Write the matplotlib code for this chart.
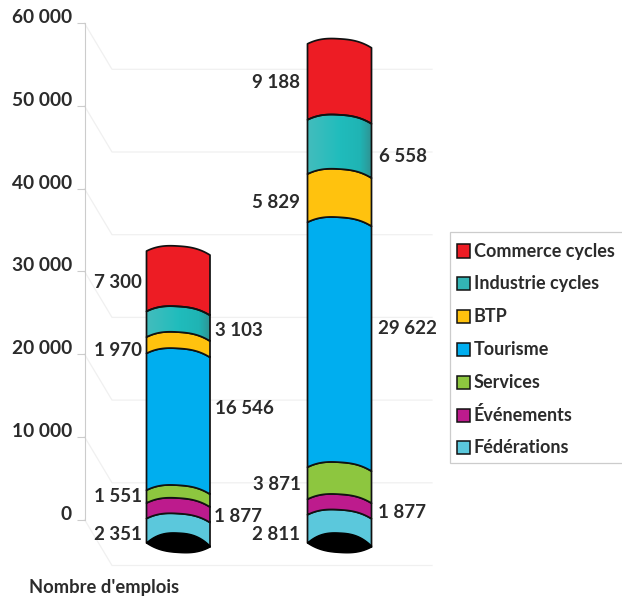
import numpy as np
import matplotlib
matplotlib.use('Agg')
import matplotlib.pyplot as plt
from matplotlib.colors import LinearSegmentedColormap
from matplotlib.patches import Polygon, Rectangle

# bottom to top, same order in both columns
categories = ['Fédérations', 'Événements', 'Services', 'Tourisme', 'BTP', 'Industrie cycles', 'Commerce cycles']
col_left = [2351, 1877, 1551, 16546, 1970, 3103, 7300]
col_right = [2811, 1877, 3871, 29622, 5829, 6558, 9188]
y_ticks = [0, 10000, 20000, 30000, 40000, 50000, 60000]
y_axis_title = "Nombre d'emplois"

colors = ['#5bc8dc', '#bd1b8d', '#8dc63f', '#00aeef', '#ffc20e', '#33b5b5', '#ed1c24']

PX = 0.00827  # picture pixels per job
ZERO_PX = 519.5
BASE = -2240  # the columns float below the zero line
plt.rcParams['font.family'] = ['Lato', 'DejaVu Sans']
plt.rcParams['font.weight'] = 'bold'
TEXT = '#2b2b2b'


def v(py):
    # picture row to axis value
    return (ZERO_PX - py) / PX


def fmt(n):
    return f'{n:,}'.replace(',', ' ')


def arc(x0, x1, value, tilt=4, bump=7.0):
    # curved ring of the cylinder, returned left to right, flatter on top than a parabola
    t = np.linspace(0, 1, 60)
    py = tilt * t - bump * (1 - np.abs(2 * t - 1) ** 2.6)
    return x0 + t * (x1 - x0), value - py / PX


def column(ax, x0, x1, values):
    tops = BASE + np.cumsum(values)
    bottoms = tops - np.array(values)
    for i, (bot, top) in enumerate(zip(bottoms, tops)):
        xt, yt = arc(x0, x1, top)
        if i == 0:
            # lowest band runs down to the black end cap
            xb, yb = arc(x0, x1, v(543))
        else:
            xb, yb = arc(x0, x1, bot)
        pts = np.r_[np.c_[xt, yt], np.c_[xb, yb][::-1]]
        poly = Polygon(pts, closed=True, fc=colors[i], ec='#111111', lw=1.25, zorder=3, joinstyle='round')
        ax.add_patch(poly)
        if categories[i] == 'Industrie cycles':
            # this band has a shaded face
            poly.set_facecolor('none')
            poly.set_zorder(4)
            grad = ax.imshow(np.linspace(0, 1, 64).reshape(1, -1), cmap=teal_cmap, aspect='auto',
                             extent=(x0, x1, yb.min(), yt.max()), zorder=3)
            grad.set_clip_path(poly)

    # black end cap
    xa, ya = arc(x0, x1, v(543), tilt=3, bump=11.5)
    xc, yc = arc(x0, x1, v(543), tilt=4, bump=-7.5)
    cap = np.r_[np.c_[xa, ya], np.c_[xc, yc][::-1]]
    ax.add_patch(Polygon(cap, closed=True, fc='black', ec='black', lw=1, zorder=5))


teal_cmap = LinearSegmentedColormap.from_list(
    'teal', [(0, '#42bdbd'), (0.5, '#20bcbc'), (0.82, '#1fb4b4'), (1, '#2f9393')])

fig = plt.figure(figsize=(6.22, 6.01), dpi=100)
ax = fig.add_axes([0, 0, 1, 1])

# back wall of the fake 3d chart
for tick in y_ticks:
    ax.plot([84.5, 112, 432], [tick, tick - 46 / PX, tick - 46 / PX], color='#f0f0f0', lw=0.9, zorder=1)

column(ax, 146.5, 210, col_left)
column(ax, 307.5, 371.5, col_right)

# value labels, (picture x, picture y, alignment) in the order of the arrays
left_pos = [(142, 534, 'right'), (214, 516, 'left'), (142, 497, 'right'), (215, 409, 'left'),
            (142, 351, 'right'), (215, 330, 'left'), (142, 282, 'right')]
right_pos = [(300, 535, 'right'), (378, 513, 'left'), (301, 485, 'right'), (378, 329, 'left'),
             (300, 202, 'right'), (379, 157, 'left'), (300, 82, 'right')]
for vals, pos in [(col_left, left_pos), (col_right, right_pos)]:
    for n, (px, py, ha) in zip(vals, pos):
        ax.text(px, v(py), fmt(n), ha=ha, va='center', fontsize=13.5, color=TEXT, zorder=6)

ax.text(29, v(587), y_axis_title, ha='left', va='center', fontsize=13.2, color=TEXT)

# legend box, its right side runs off the picture
ax.add_patch(Rectangle((450, v(463)), 180, v(232) - v(463), fc='white', ec='#cccccc', lw=0.9, zorder=2))
for i, (name, c) in enumerate(zip(categories[::-1], colors[::-1])):
    row = 251 + i * 32.8
    ax.add_patch(Rectangle((457, v(row + 6.5)), 13, 13 / PX, fc=c, ec='#111111', lw=1.1, zorder=3))
    ax.text(473.5, v(row), name, ha='left', va='center', fontsize=13, color=TEXT, zorder=3)

# axis
ax.set_xlim(0, 622)
ax.set_ylim(v(601), v(0))
ax.set_xticks([])
for side in ['top', 'right', 'bottom']:
    ax.spines[side].set_visible(False)
ax.spines['left'].set_position(('data', 84.5))
ax.spines['left'].set_bounds(0, 60000)
ax.spines['left'].set_color('#cccccc')
ax.spines['left'].set_linewidth(0.8)
ax.set_yticks(y_ticks)
ax.set_yticklabels([fmt(t) for t in y_ticks])
ax.tick_params(axis='y', length=6, width=0.8, color='#cccccc', pad=3, labelsize=13.8, labelcolor=TEXT)
for lab in ax.get_yticklabels():
    lab.set_va('baseline')

fig.savefig('out.png', dpi=100)
